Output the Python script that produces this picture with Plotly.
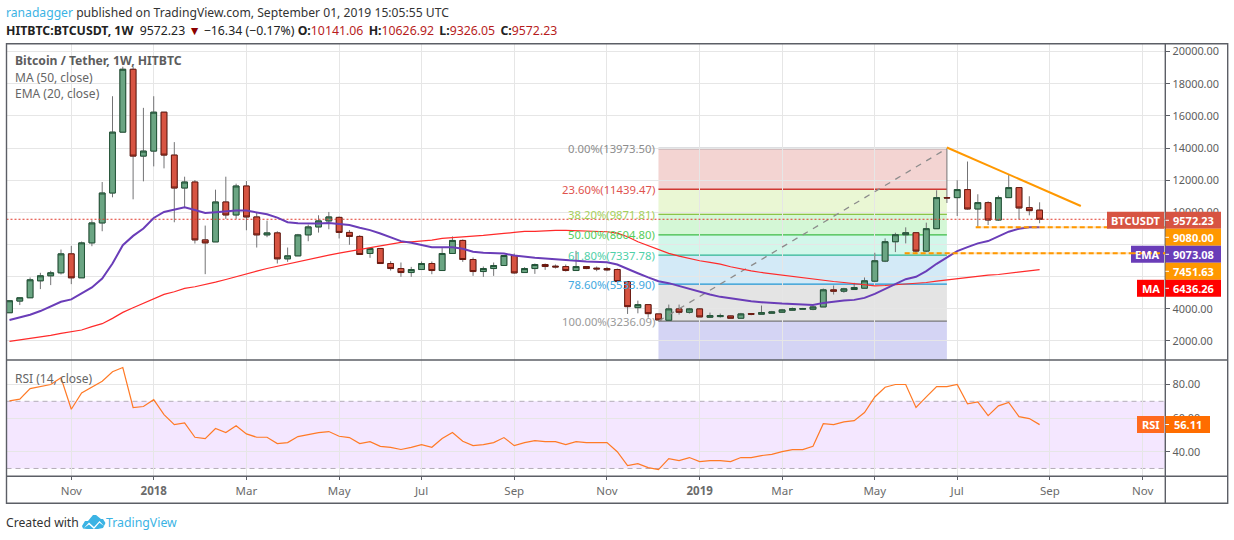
import plotly.graph_objects as go

W, H = 1234, 540

# weekly candles
opens = [3758,4483,4689,5744,6055,6241,7420,5930,8103,9344,
         11206,14993,18903,13503,13813,16234,13565,11517,11889,8289,
         8165,10648,9841,11641,9717,8600,8724,7110,7296,8600,
         9096,9469,9688,8753,8503,7443,7755,6819,6507,6258,
         6445,6819,6383,7443,8254,7069,6320,6507,6695,7318,
         6258,6507,6757,6653,6632,6383,6632,6528,6507,6445,
         5697,4075,4262,3684,3289,3996,3788,3996,3476,3518,
         3559,3414,3705,3663,3726,3788,3913,3975,3975,4120,
         5181,5098,5201,5285,5721,6969,8175,8611,8736,7593,
         8986,10919,10919,11418,10212,10607,9526,10919,11543,10295,
         10141.06]
highs = [4503,4689,5951,6241,6365,7689,7917,8186,9510,11889,
         17227,19062,19062,16503,17227,16234,14372,12220,12014,9179,
         11413,12220,11786,11951,10006,9489,8827,7813,8662,9241,
         9820,10027,9750,8900,8586,7755,7755,6965,6882,6611,
         6944,6944,7775,8503,8316,7193,6632,6882,7318,7443,
         6590,6819,6819,6757,6757,7609,6632,6632,6611,6507,
         5697,4512,4262,3684,4266,4266,4058,4038,3767,3705,
         3580,3746,3705,4204,3870,3996,4080,4058,4162,5264,
         5451,5306,5618,5950,7489,8383,8736,9069,8736,9360,
         11377,13975,12000,13164,11127,10690,11044,12333,11543,11002,
         10626.92]
lows = [3758,4234,4689,5227,5475,6137,5537,5930,7896,8827,
        10938,14993,10813,11931,12862,12738,9386,10317,8062,6158,
        8165,9593,9593,8889,7813,8455,6820,6924,7296,8206,
        8744,8951,8378,7983,7380,7173,6819,6383,5988,5988,
        6445,6154,6383,7443,6923,6050,5988,6050,6695,6175,
        6258,6175,6424,6507,6320,6383,6466,6341,6341,5697,
        3680,3721,3451,3240,3289,3643,3705,3497,3455,3455,
        3414,3414,3600,3663,3726,3767,3870,3975,3913,4120,
        4890,5000,5181,5264,5659,6907,7530,8071,7468,7530,
        8986,10586,9776,10171,9110,9214,9464,10919,9568,9817,
        9326.05]
closes = [4503,4689,5807,6055,6241,7420,5930,8103,9344,11206,
          14993,18903,13503,13813,16234,13565,11517,11889,8289,8103,
          10648,9841,11641,9717,8600,8724,7110,7296,8600,9096,
          9469,9717,8753,8503,7380,7755,6819,6507,6258,6445,
          6819,6383,7443,8254,7069,6320,6507,6695,7318,6237,
          6507,6757,6632,6611,6383,6632,6507,6486,6424,5697,
          4137,4262,3701,3310,3996,3788,3996,3497,3580,3580,
          3414,3684,3663,3767,3809,3934,4017,4017,4120,5181,
          5098,5243,5326,5742,6990,8175,8611,8736,7593,8986,
          10919,10898,11418,10212,10607,9526,10919,11543,10275,10108,
          9572.23]

ema20 = [3303,3448,3634,3862,4131,4441,4586,4958,5331,5889,
         6820,7958,8537,8993,9655,10027,10151,10317,10151,9965,
         10006,10069,10110,10110,10006,9882,9675,9386,9324,9303,
         9303,9345,9272,9210,9044,8898,8690,8441,8212,8108,
         7983,7838,7838,7838,7734,7547,7484,7463,7443,7318,
         7235,7173,7131,7069,7006,6985,6944,6902,6902,6757,
         6466,6216,5960,5721,5597,5410,5223,5077,4890,4745,
         4641,4557,4474,4412,4350,4329,4308,4266,4245,4370,
         4453,4516,4557,4682,4932,5243,5555,5846,5992,6345,
         6803,7219,7593,7842,8071,8216,8528,8799,8986,9069,
         9073.08]
ma50 = [1979,2062,2186,2248,2351,2476,2579,2683,2889,3075,
        3406,3779,4069,4338,4648,4896,5062,5269,5372,5496,
        5662,5827,6014,6200,6344,6510,6655,6779,6903,7048,
        7213,7338,7464,7588,7713,7817,7921,8025,8129,8170,
        8212,8274,8378,8441,8503,8524,8565,8607,8690,8753,
        8815,8815,8857,8877,8877,8857,8836,8794,8794,8711,
        8482,8170,7930,7655,7447,7281,7115,6990,6886,6782,
        6616,6470,6366,6262,6179,6075,6013,5930,5846,5763,
        5701,5638,5555,5472,5431,5451,5493,5555,5597,5638,
        5721,5805,5867,5930,6013,6096,6137,6220,6283,6345,
        6436.26]
rsi14 = [70.3,71.3,77.6,78.8,80,84,65.3,75,78.4,82,
         87.6,90.1,66.3,66.9,71,62.1,56.1,57.1,48.6,47.8,
         53.8,51.4,55.5,50.6,48.6,48.6,44.8,45.4,49,50.4,
         51.4,52,49.2,48.4,44.8,46,43.2,42.6,41.3,42.6,
         44.2,42.6,47.8,51.4,46.2,43.6,44.2,45.4,48.4,43.6,
         45.4,46.6,46,46,44.2,46,45.4,45.4,45.4,40,
         31.7,32.9,30.5,29.3,35.9,34.7,36.5,34.1,34.7,34.7,
         34.1,36.5,36.5,37.7,38.4,40,41.2,41.2,43.2,56.7,
         56.1,57.7,58.5,63.3,72.6,78.4,80,80,66.3,72.6,
         78.8,78.8,80,68.5,69.7,61.5,67.3,69.3,60.9,59.7,
         56.11]
bars = list(range(len(closes)))

# month labels sit on the first bar of the month
tick_bars = [6, 14, 23, 32, 40, 49, 58, 67, 75, 84, 92, 101, 110]
tick_labels = ["Nov", "<b>2018</b>", "Mar", "May", "Jul", "Sep", "Nov",
               "<b>2019</b>", "Mar", "May", "Jul", "Sep", "Nov"]
price_ticks = [2000, 4000, 6000, 8000, 10000, 12000, 14000, 16000, 18000, 20000]
# 6000 and 8000 are fully behind the price tags in the reference
price_labels = ["2000.00", "4000.00", "", "", "10000.00", "12000.00", "14000.00",
                "16000.00", "18000.00", "20000.00"]
rsi_ticks = [40, 60, 80]

fib_names = ["0.00%", "23.60%", "38.20%", "50.00%", "61.80%", "78.60%", "100.00%"]
fib_prices = [13973.50, 11439.47, 9871.81, 8604.80, 7337.78, 5533.90, 3236.09]
fib_lines = ["#787b86", "#cf3a33", "#8bc34a", "#3dbb45", "#2fb595", "#2196d3", "#787878"]
fib_text = ["#8c8c8c", "#e0524d", "#a5d05a", "#55cc5a", "#4fd0a8", "#42a8e0", "#9a9a9a"]
fib_fills = ["rgba(195,40,30,0.2)", "rgba(150,215,40,0.2)", "rgba(40,215,50,0.2)",
             "rgba(30,215,150,0.2)", "rgba(35,150,215,0.2)", "rgba(120,120,120,0.2)",
             "rgba(40,40,200,0.2)"]
fib_start, fib_end = 63, 91
trend_bars, trend_prices = [91, 104], [14037, 10399]
support_bars = [[93.8, 112.2], [86.9, 112.2]]
support_prices = [9080.00, 7451.63]

PANE_L, PANE_R, RIGHT = 6.5, 1165.3, 1227.7
TOP, MID, BOT, AXIS_BOT = 43.7, 360.0, 476.2, 503.3
X_RANGE = [-0.29, 112.2]
Y_RANGE = [817, 20494]
RSI_RANGE = [25.4, 94.6]
FONT = "Noto Sans"
GREY = "#5d5d5d"
FRAME = "#5c5f66"


def px(x):
    return x / W


def py(y):
    return (H - y) / H


fig = go.Figure()

# wicks first (grey), bodies on top with darker outline
fig.add_trace(go.Candlestick(
    x=bars, open=opens, high=highs, low=lows, close=closes, whiskerwidth=0,
    increasing=dict(line=dict(color="#737375", width=1), fillcolor="#737375"),
    decreasing=dict(line=dict(color="#737375", width=1), fillcolor="#737375"),
    hoverinfo="skip"))
fig.add_trace(go.Candlestick(
    x=bars, open=opens, close=closes, whiskerwidth=0,
    high=[max(o, c) for o, c in zip(opens, closes)],
    low=[min(o, c) for o, c in zip(opens, closes)],
    increasing=dict(line=dict(color="#225437", width=1), fillcolor="#6ba583"),
    decreasing=dict(line=dict(color="#6b1a10", width=1), fillcolor="#d75442"),
    hoverinfo="skip"))

fig.add_trace(go.Scatter(x=[fib_start, fib_end], y=[fib_prices[-1], fib_prices[0]], mode="lines",
                         line=dict(color="#8c8c8c", width=1.3, dash="6px 6px")))
fig.add_trace(go.Scatter(x=X_RANGE, y=[closes[-1], closes[-1]], mode="lines",
                         line=dict(color="#e0392b", width=1, dash="2px 2px")))
fig.add_trace(go.Scatter(x=bars, y=ma50, mode="lines", line=dict(color="#ff2a2a", width=1.2)))
fig.add_trace(go.Scatter(x=bars, y=ema20, mode="lines", line=dict(color="#6a3db8", width=2)))
fig.add_trace(go.Scatter(x=trend_bars, y=trend_prices, mode="lines",
                         line=dict(color="#ff9800", width=2)))
for xs, level in zip(support_bars, support_prices):
    fig.add_trace(go.Scatter(x=xs, y=[level, level], mode="lines",
                             line=dict(color="rgba(255,152,0,0.25)", width=2)))
    fig.add_trace(go.Scatter(x=xs, y=[level, level], mode="lines",
                             line=dict(color="#ff9800", width=2, dash="5px 3px")))

fig.add_trace(go.Scatter(x=bars, y=rsi14, mode="lines", xaxis="x2", yaxis="y2",
                         line=dict(color="#ff7a26", width=1.2)))

shapes = []
# fib bands and level lines
lower = fib_prices[1:] + [Y_RANGE[0]]
for top, bottom, fill in zip(fib_prices, lower, fib_fills):
    shapes.append(dict(type="rect", xref="x", yref="y", x0=fib_start, x1=fib_end, y0=bottom, y1=top,
                       fillcolor=fill, line_width=0, layer="below"))
for level, colour in zip(fib_prices, fib_lines):
    shapes.append(dict(type="line", xref="x", yref="y", x0=fib_start, x1=fib_end, y0=level, y1=level,
                       line=dict(color=colour, width=1.3), layer="below"))

# rsi band
shapes.append(dict(type="rect", xref="x2", yref="y2", x0=X_RANGE[0], x1=X_RANGE[1], y0=30, y1=70,
                   fillcolor="rgba(153,40,255,0.11)", line_width=0, layer="below"))
for level in [30, 70]:
    shapes.append(dict(type="line", xref="x2", yref="y2", x0=X_RANGE[0], x1=X_RANGE[1], y0=level, y1=level,
                       line=dict(color="#b4adb8", width=1, dash="5px 4px"), layer="below"))

# chart frame
shapes.append(dict(type="rect", xref="paper", yref="paper", x0=px(PANE_L), x1=px(RIGHT), y0=py(AXIS_BOT), y1=py(TOP),
                   line=dict(color=FRAME, width=1.4)))
for x0, x1, y0, y1 in [(PANE_L, RIGHT, MID, MID), (PANE_L, RIGHT, BOT, BOT), (PANE_R, PANE_R, TOP, AXIS_BOT)]:
    shapes.append(dict(type="line", xref="paper", yref="paper", x0=px(x0), x1=px(x1), y0=py(y0), y1=py(y1),
                       line=dict(color=FRAME, width=1.4)))

annotations = []


def text(x, y, s, size=12, color=GREY, anchor="left"):
    annotations.append(dict(xref="paper", yref="paper", x=px(x - 1), y=py(y), text=s, showarrow=False,
                            xanchor=anchor, yanchor="middle", align=anchor,
                            font=dict(family=FONT, size=size, color=color), borderpad=0))


def tag(x0, x1, yc, s, color, size=11, value=True):
    shapes.append(dict(type="rect", xref="paper", yref="paper", x0=px(x0), x1=px(x1),
                       y0=py(yc + 8.5), y1=py(yc - 8.5), fillcolor=color, line_width=0, layer="above"))
    if value:
        # small white tick at the scale edge
        shapes.append(dict(type="line", xref="paper", yref="paper", x0=px(x0), x1=px(x0 + 3.5),
                           y0=py(yc), y1=py(yc), line=dict(color="white", width=1), layer="above"))
    annotations.append(dict(xref="paper", yref="paper", x=px((x0 + x1) / 2), y=py(yc), text="<b>%s</b>" % s,
                            showarrow=False, xanchor="center", yanchor="middle",
                            font=dict(family=FONT, size=size, color="white")))


# header
text(6, 12, '<span style="color:#3bb3e4">ranadagger</span> published on TradingView.com, '
            'September 01, 2019 15:05:55 UTC', size=12.15, color="#333333")
red = "#b71c1c"
text(6, 30, '<b>HITBTC:BTCUSDT, 1W</b>  9572.23 <span style="color:#8b0000">▼</span> −16.34 (−0.17%%) '
            '<b>O:</b><span style="color:%s">10141.06</span>\u2009 <b>H:</b><span style="color:%s">10626.92</span>\u2009 '
            '<b>L:</b><span style="color:%s">9326.05</span>\u2009 <b>C:</b><span style="color:%s">9572.23</span>'
     % (red, red, red, red), size=12.3, color="#222222")

# pane legends
text(15, 61, "<b>Bitcoin / Tether, 1W, HITBTC</b>", size=12.2)
text(15, 77, "MA (50, close)", size=12, color="#666666")
text(15, 94, "EMA (20, close)", size=12, color="#666666")
text(15, 378, "RSI (14, close)", size=12, color="#666666")

# fib labels
for name, level, colour in zip(fib_names, fib_prices, fib_text):
    annotations.append(dict(xref="paper", yref="y", x=px(656.5), y=level, text="%s(%.2f)" % (name, level),
                            showarrow=False, xanchor="right", yanchor="middle",
                            font=dict(family=FONT, size=11.3, color=colour)))

# price tags on the right scale
tag(1107, 1164, 220.3, "BTCUSDT", "#d75442", value=False)
tag(1165.5, 1221, 220.3, "9572.23", "#d75442")
tag(1165.5, 1221, 237.3, "9080.00", "#ff9800")
tag(1131, 1164, 254.3, "EMA", "#6a3db8", value=False)
# the 7451.63 support line runs over the EMA tag
shapes.append(dict(type="line", xref="paper", yref="y", x0=px(1131), x1=px(1165), y0=support_prices[1],
                   y1=support_prices[1], line=dict(color="#ff9800", width=2, dash="5px 3px"), layer="above"))
tag(1165.5, 1221, 254.3, "9073.08", "#6a3db8")
tag(1165.5, 1221, 271.3, "7451.63", "#ff9800")
tag(1137, 1164, 288.3, "MA", "#ff0000", value=False)
tag(1165.5, 1221, 288.3, "6436.26", "#ff0000")
tag(1137, 1164, 424.5, "RSI", "#ff6a1f", value=False)
tag(1165.5, 1210, 424.5, "56.11", "#ff6d00")

# footer
text(6, 522, "Created with", size=12.2, color="#333333")
text(106, 522, "TradingView", size=12.3, color="#3bb3e4")


def logo_path(points):
    return "M" + "L".join("%.5f,%.5f" % (px(x), py(y)) for x, y in points) + "Z"


cloud = [(82, 526), (85, 521), (88, 521), (93, 515), (96, 515), (101, 519), (103, 519), (105.5, 523),
         (103, 528), (98, 529), (87, 529), (83, 528.5)]
wave = [(84, 528), (89, 522.5), (94, 527), (99.5, 521), (104, 526), (99.5, 522.8), (94, 529), (89, 524.5)]
shapes.append(dict(type="path", xref="paper", yref="paper", path=logo_path(cloud), fillcolor="#3bb3e4", line_width=0))
shapes.append(dict(type="path", xref="paper", yref="paper", path=logo_path(wave), fillcolor="white", line_width=0))

grid = "#e6e6e6"
x_common = dict(range=X_RANGE, tickvals=tick_bars, showgrid=True, gridcolor=grid, gridwidth=1,
                zeroline=False, showline=False)
y_common = dict(side="right", showgrid=True, gridcolor=grid, gridwidth=1, zeroline=False, showline=False,
                tickformat=".2f", ticks="outside", ticklen=4, tickcolor=FRAME,
                tickfont=dict(family=FONT, size=10.9, color=GREY))

fig.update_layout(
    width=W, height=H, margin=dict(l=0, r=0, t=0, b=0, autoexpand=False),
    paper_bgcolor="white", plot_bgcolor="white", showlegend=False, boxgap=0.2, hovermode=False,
    xaxis=dict(domain=[px(PANE_L), px(PANE_R)], anchor="y", showticklabels=False, ticks="",
               rangeslider=dict(visible=False), **x_common),
    xaxis2=dict(domain=[px(PANE_L), px(PANE_R)], anchor="y2", ticktext=tick_labels, ticks="outside",
                ticklen=3, tickcolor=FRAME, ticklabelstandoff=1,
                tickfont=dict(family=FONT, size=11.5, color="#6b6b6b"), **x_common),
    yaxis=dict(domain=[py(MID), py(TOP)], anchor="x", range=Y_RANGE, tickvals=price_ticks,
               ticktext=price_labels, **y_common),
    yaxis2=dict(domain=[py(BOT), py(MID)], anchor="x2", range=RSI_RANGE, tickvals=rsi_ticks, **y_common),
    shapes=shapes, annotations=annotations,
)

fig.write_html("out.html", config=dict(displayModeBar=False),
               post_script="document.body.style.margin='0';")
